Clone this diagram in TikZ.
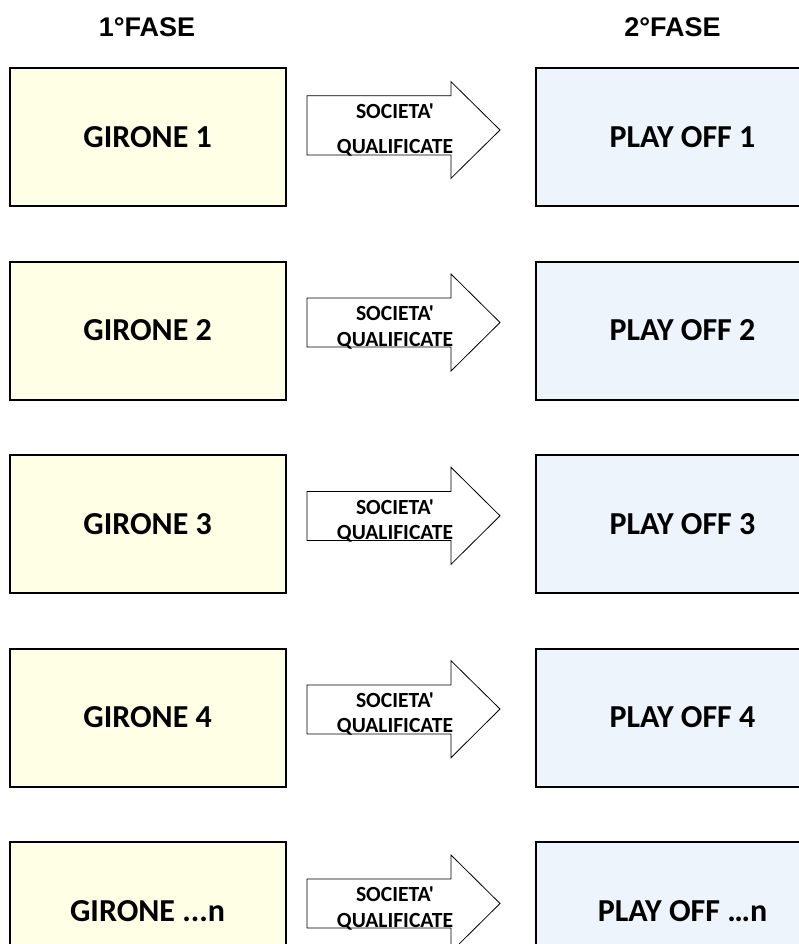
\documentclass[tikz,border=0pt]{standalone}
\usepackage{fontspec}
\setmainfont{Carlito}[Ligatures=TeXOff]
\newfontfamily\arialfont{Liberation Sans}
\usepackage{tikz}

\definecolor{gialloch}{HTML}{FFFFE6}
\definecolor{azzurroch}{HTML}{EEF4FB}

\begin{document}
\begin{tikzpicture}[x=1pt,y=1pt,
  girone/.style={draw=black, line width=2pt, fill=gialloch, minimum width=276pt, minimum height=138pt, inner sep=0pt, font=\bfseries\fontsize{32}{38}\selectfont},
  playoff/.style={draw=black, line width=2pt, fill=azzurroch, minimum width=293pt, minimum height=138pt, inner sep=0pt, font=\bfseries\fontsize{32}{38}\selectfont},
  fase/.style={inner sep=0pt, font=\arialfont\bfseries\fontsize{27}{32}\selectfont},
  freccia/.style={draw=black, line width=0.8pt, fill=white},
  qual/.style={inner sep=0pt, align=center, font=\bfseries\fontsize{21.6}{25.5}\selectfont}]
\clip (0,0) rectangle (799,-944);
\fill [white] (0,0) rectangle (799,-944);
% titoli
\node [fase] (f1) at (147,-27) {1°FASE};
\node [fase] (f2) at (672.5,-27) {2°FASE};
% prima fase
\node [girone] (g1) at (147.6,-137) {GIRONE 1};
\node [girone] (g2) at (147.6,-330.5) {GIRONE 2};
\node [girone] (g3) at (147.6,-524) {GIRONE 3};
\node [girone] (g4) at (147.6,-717.5) {GIRONE 4};
\node [girone] (g5) at (147.6,-911) {GIRONE ...n};
% seconda fase
\node [playoff] (p1) at (682.5,-137) {PLAY OFF 1};
\node [playoff] (p2) at (682.5,-330.5) {PLAY OFF 2};
\node [playoff] (p3) at (682.5,-524) {PLAY OFF 3};
\node [playoff] (p4) at (682.5,-717.5) {PLAY OFF 4};
\node [playoff] (p5) at (682.5,-911) {PLAY OFF …n};
% frecce
\draw [freccia] (307,-95.7) -- (451,-95.7) -- (451,-81.7) -- (500,-130) -- (451,-178.3) -- (451,-155) -- (307,-155) -- cycle;
\node [qual, font=\bfseries\fontsize{21.6}{35}\selectfont] (s1) at (395,-130) {SOCIETA'\\QUALIFICATE};
\draw [freccia] (307,-298) -- (451,-298) -- (451,-274) -- (500,-322.5) -- (451,-371) -- (451,-347) -- (307,-347) -- cycle;
\node [qual] (s2) at (395,-327.5) {SOCIETA'\\QUALIFICATE};
\draw [freccia] (307,-491.5) -- (451,-491.5) -- (451,-467.3) -- (500,-515.8) -- (451,-564.3) -- (451,-540.5) -- (307,-540.5) -- cycle;
\node [qual] (s3) at (395,-520.8) {SOCIETA'\\QUALIFICATE};
\draw [freccia] (307,-685) -- (451,-685) -- (451,-660.7) -- (500,-709) -- (451,-757.7) -- (451,-734) -- (307,-734) -- cycle;
\node [qual] (s4) at (395,-714) {SOCIETA'\\QUALIFICATE};
\draw [freccia] (307,-879) -- (451,-879) -- (451,-855) -- (500,-903.5) -- (451,-952) -- (451,-928) -- (307,-928) -- cycle;
\node [qual] (s5) at (395,-908.5) {SOCIETA'\\QUALIFICATE};
\end{tikzpicture}
\end{document}
